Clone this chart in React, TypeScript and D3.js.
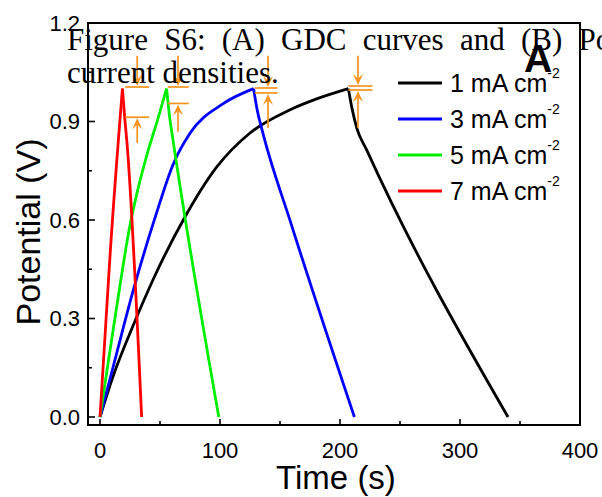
import React from 'react';
import * as d3 from 'd3';

// time (s), potential (V)
const black1Charge: [number, number][] = [[0, 0], [11, 0.125], [27.8, 0.28], [47, 0.44], [69.4, 0.6], [97, 0.76], [125, 0.865], [158, 0.935], [180, 0.968], [207, 1.0]];
const black1Discharge: [number, number][] = [[207, 1.0], [210, 0.94], [214, 0.88], [222, 0.815], [340, 0]];
const blue3Charge: [number, number][] = [[0, 0], [11, 0.153], [27.8, 0.387], [47, 0.62], [61, 0.77], [75, 0.864], [103, 0.955], [128, 1.0]];
const blue3Discharge: [number, number][] = [[128, 1.0], [131, 0.935], [135, 0.875], [160, 0.58], [212, 0]];
const green5Charge: [number, number][] = [[0, 0], [8, 0.195], [16, 0.385], [24, 0.565], [32, 0.7], [40, 0.81], [48, 0.905], [55.5, 1.0]];
const green5Discharge: [number, number][] = [[55.5, 1.0], [58, 0.915], [61, 0.84], [99, 0]];
const red7Charge: [number, number][] = [[0, 0], [4.5, 0.265], [8.3, 0.488], [18.7, 1.0]];
const red7Discharge: [number, number][] = [[18.7, 1.0], [20.5, 0.915], [22.5, 0.835], [34.7, 0]];

const seriesNames = ['1 mA cm', '3 mA cm', '5 mA cm', '7 mA cm'];
const seriesColors = ['#000000', '#0000ff', '#00ee00', '#ff0000'];
const seriesData = [
  [black1Charge, black1Discharge],
  [blue3Charge, blue3Discharge],
  [green5Charge, green5Discharge],
  [red7Charge, red7Discharge],
];

// IR-drop markers: [x from, x to, arrow x, top V, bottom V, up-arrow start V]
const irDrops: number[][] = [
  [21, 41, 31, 1.005, 0.913, 0.834],
  [56.5, 74, 65, 1.005, 0.955, 0.869],
  [129, 148, 140, 1.002, 0.987, 0.88],
  [207, 227, 215, 1.008, 0.996, 0.88],
];
const arrowTopV = 1.1;

const xTicks = [0, 100, 200, 300, 400];
const xMinor = [50, 150, 250, 350];
const yTicks = [0, 0.3, 0.6, 0.9, 1.2];
const yMinor = [0.15, 0.45, 0.75, 1.05];

const W = 602;
const H = 497;
const x = d3.scaleLinear().domain([-10, 400]).range([88, 580]);
const y = d3.scaleLinear().domain([-0.0244, 1.2]).range([425, 23]);
const orange = '#f7931e';
const sans = 'Arial, "Liberation Sans", sans-serif';

const line = d3
  .line<[number, number]>()
  .x(d => x(d[0]))
  .y(d => y(d[1]))
  .curve(d3.curveMonotoneX);

const arrowHead = (ax: number, ay: number, dir: number) => {
  // dir = 1 points down, -1 points up
  const l = 11 * dir;
  return `M${ax},${ay} L${ax - 5},${ay - l} L${ax},${ay - l * 0.6} L${ax + 5},${ay - l} Z`;
};

const App = () => {
  return (
    <svg width={W} height={H} style={{ position: 'absolute', left: 0, top: 0, background: '#fff' }}>
      {/* curves */}
      {seriesData.map((segs, i) => (
        <g key={i} fill="none" stroke={seriesColors[i]} strokeWidth={2.8}>
          <path d={line(segs[0]) || ''} />
          <path d={line(segs[1]) || ''} />
        </g>
      ))}

      {/* IR drop annotations */}
      {irDrops.map((d, i) => {
        const ax = x(d[2]);
        return (
          <g key={i} stroke={orange} strokeWidth={1.7} fill="none">
            <line x1={x(d[0])} x2={x(d[1])} y1={y(d[3])} y2={y(d[3])} />
            <line x1={x(d[0])} x2={x(d[1])} y1={y(d[4])} y2={y(d[4])} />
            <line x1={ax} x2={ax} y1={y(arrowTopV)} y2={y(d[3]) - 4} />
            <line x1={ax} x2={ax} y1={y(d[5])} y2={y(d[4]) + 4} />
            <path d={arrowHead(ax, y(d[3]) - 1, 1)} fill={orange} stroke="none" />
            <path d={arrowHead(ax, y(d[4]) + 1, -1)} fill={orange} stroke="none" />
          </g>
        );
      })}

      {/* frame */}
      <rect x={88} y={23} width={492} height={402} fill="none" stroke="#000" strokeWidth={2} />

      {/* x ticks */}
      {xTicks.map(t => (
        <g key={t}>
          <line x1={x(t)} x2={x(t)} y1={425} y2={419} stroke="#000" strokeWidth={1.6} />
          <text x={x(t)} y={458} textAnchor="middle" fontFamily={sans} fontSize={22}>{t}</text>
        </g>
      ))}
      {xMinor.map(t => (
        <line key={t} x1={x(t)} x2={x(t)} y1={425} y2={421} stroke="#000" strokeWidth={1.6} />
      ))}

      {/* y ticks */}
      {yTicks.map(t => (
        <g key={t}>
          <line x1={88} x2={95} y1={y(t)} y2={y(t)} stroke="#000" strokeWidth={1.6} />
          <text x={80} y={y(t) + 8} textAnchor="end" fontFamily={sans} fontSize={22}>{d3.format('.1f')(t)}</text>
        </g>
      ))}
      {yMinor.map(t => (
        <line key={t} x1={88} x2={92} y1={y(t)} y2={y(t)} stroke="#000" strokeWidth={1.6} />
      ))}

      {/* axis titles */}
      <text x={336} y={489} textAnchor="middle" fontFamily={sans} fontSize={33}>Time (s)</text>
      <text transform="translate(40,232) rotate(-90)" textAnchor="middle" fontFamily={sans} fontSize={34}>Potential (V)</text>

      {/* legend */}
      {seriesNames.map((name, i) => {
        const ly = 83 + i * 36;
        return (
          <g key={name}>
            <line x1={398} x2={442} y1={ly} y2={ly} stroke={seriesColors[i]} strokeWidth={2.8} />
            <text x={450} y={ly + 9} fontFamily={sans} fontSize={25}>
              {name}
              <tspan dy={-14} fontSize={14}>-2</tspan>
            </text>
          </g>
        );
      })}

      {/* panel letter */}
      <text x={524} y={72} fontFamily={sans} fontSize={39} fontWeight="bold">A</text>

      {/* overlapping caption text */}
      <g fontFamily='"Times New Roman", "Liberation Serif", serif' fontSize={31} fill="#000">
        <text x={67} y={50} style={{ wordSpacing: '8.5px' }}>Figure S6: (A) GDC curves and (B) Po</text>
        <text x={67} y={83}>current densities.</text>
      </g>
    </svg>
  );
};

export default App;
